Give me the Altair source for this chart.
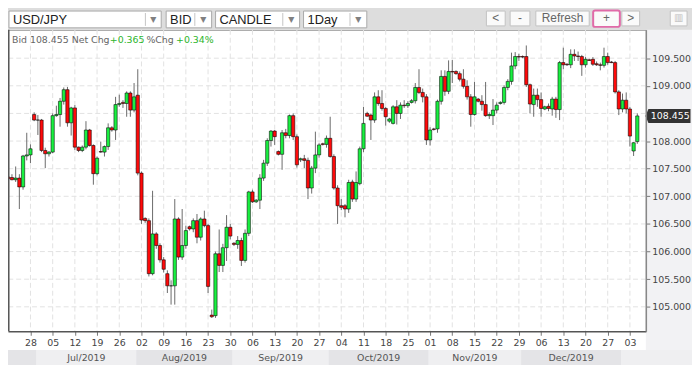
import altair as alt
import pandas as pd

# ---- daily USD/JPY candles (Sun..Fri slots) ----
O = [107.35,107.34,107.30,107.33,107.17,107.73,107.75,108.48,108.38,108.38,
     107.83,107.77,107.80,108.46,108.48,108.72,108.93,108.33,108.60,107.89,
     107.83,107.89,108.20,107.92,107.41,107.81,107.80,107.90,108.24,108.20,
     108.66,108.70,108.68,108.87,108.56,108.83,107.42,106.60,106.56,105.60,
     106.32,106.11,105.85,105.60,105.38,105.38,106.59,105.90,106.11,106.45,
     106.41,106.56,106.26,106.59,106.47,104.85,104.84,105.96,105.75,106.07,
     106.44,106.15,106.13,106.20,105.84,106.33,107.08,106.90,106.93,107.33,
     107.60,108.01,108.18,107.81,107.76,108.15,108.10,108.46,108.08,107.66,
     107.68,107.65,107.15,107.51,107.75,107.95,107.94,108.05,107.72,107.15,
     106.83,106.83,106.77,107.26,106.95,107.23,107.86,108.50,108.47,108.38,
     108.80,108.68,108.59,108.36,108.32,108.62,108.50,108.65,108.64,108.70,
     108.73,108.97,108.88,108.80,108.02,108.22,108.22,108.72,109.17,108.90,
     109.26,109.26,109.22,109.12,108.99,108.80,108.48,108.76,108.72,108.66,
     108.46,108.46,108.56,108.68,108.70,108.97,109.08,109.36,109.53,109.53,
     109.53,109.02,108.66,108.83,108.75,108.58,108.63,108.58,108.76,108.57,
     109.42,109.39,109.38,109.57,109.54,109.53,109.38,109.47,109.48,109.40,
     109.38,109.37,109.53,109.43,109.42,108.89,108.58,108.74,108.58,107.82,
     107.99]
H = [107.42,107.40,107.54,107.40,107.75,108.15,107.94,108.52,108.47,108.40,
     107.88,107.82,108.50,108.64,108.78,108.97,108.98,108.62,108.65,107.90,
     107.92,108.36,108.22,107.94,107.72,107.99,107.92,108.32,108.27,108.80,
     108.84,108.74,108.90,108.90,109.05,109.30,107.45,106.62,106.60,107.10,
     106.35,106.15,105.90,105.66,105.48,106.95,106.62,106.77,106.47,106.47,
     106.60,106.68,106.62,106.74,106.50,104.95,106.00,106.40,106.14,106.66,
     106.50,106.17,106.28,106.25,106.40,107.10,107.12,106.95,107.40,107.66,
     108.05,108.20,108.20,107.83,108.20,108.22,108.48,108.50,108.12,107.70,
     107.75,107.70,107.55,108.17,107.96,107.97,108.10,108.44,107.76,107.20,
     106.95,106.86,107.30,107.30,107.45,107.90,108.62,108.53,108.50,108.88,
     108.92,108.92,108.62,108.42,108.65,108.74,108.70,108.74,108.72,108.76,
     109.05,109.30,108.95,108.85,108.25,108.24,108.75,109.28,109.28,109.46,
     109.47,109.28,109.26,109.30,109.10,108.85,109.07,108.78,108.83,109.07,
     108.52,108.76,108.70,108.72,109.01,109.12,109.60,109.61,109.58,109.55,
     109.73,109.04,108.95,108.95,108.88,108.64,108.68,108.80,108.80,109.45,
     109.69,109.41,109.66,109.66,109.62,109.56,109.52,109.49,109.52,109.44,
     109.42,109.69,109.60,109.45,109.45,108.92,108.86,108.88,108.62,107.98,
     108.50]
L = [107.28,107.29,107.26,106.77,107.12,107.65,107.60,108.36,108.11,107.80,
     107.51,107.72,107.78,108.44,108.26,108.66,108.26,108.10,107.84,107.80,
     107.80,107.85,107.90,107.21,107.38,107.79,107.72,107.84,108.17,108.02,
     108.62,108.60,108.44,108.44,108.52,107.38,106.50,106.52,105.55,105.57,
     106.05,105.80,105.62,105.25,105.04,105.04,105.85,105.85,106.05,106.38,
     106.35,106.15,106.20,106.44,105.25,104.80,104.80,105.63,105.63,105.83,
     106.22,106.10,106.05,105.74,105.80,106.28,106.88,106.88,106.77,107.28,
     107.55,107.90,107.93,107.74,107.48,108.05,108.05,108.02,107.52,107.62,
     107.51,106.95,107.05,107.42,107.70,107.92,107.88,107.70,107.12,106.50,
     106.75,106.62,106.70,106.90,106.90,107.20,107.80,108.44,108.02,108.33,
     108.64,108.55,108.28,108.33,108.30,108.30,108.40,108.60,108.60,108.68,
     108.68,108.85,108.70,107.93,107.92,108.19,108.15,108.66,108.82,108.85,
     109.05,109.20,109.08,108.95,108.75,108.26,108.46,108.70,108.55,108.44,
     108.40,108.29,108.50,108.66,108.66,108.92,109.02,109.30,109.45,109.50,
     108.98,108.50,108.44,108.62,108.44,108.56,108.54,108.46,108.42,108.38,
     109.30,109.36,109.32,109.45,109.45,109.18,109.33,109.45,109.36,109.36,
     109.28,109.33,109.38,109.41,108.86,108.47,108.52,108.50,107.90,107.73,
     107.95]
C = [107.32,107.30,107.33,107.17,107.73,107.75,107.86,108.38,108.38,107.83,
     107.77,107.80,108.46,108.48,108.72,108.93,108.33,108.60,107.89,107.83,
     107.89,108.20,107.92,107.41,107.69,107.80,107.90,108.24,108.20,108.66,
     108.68,108.68,108.87,108.56,108.80,107.42,106.57,106.56,105.60,106.32,
     106.11,105.85,105.68,105.38,105.38,106.59,105.90,106.11,106.38,106.41,
     106.56,106.26,106.59,106.47,105.37,104.82,105.96,105.75,106.07,106.44,
     106.28,106.13,106.20,105.84,106.33,107.08,106.90,106.93,107.33,107.60,
     108.01,108.18,108.08,107.76,108.15,108.10,108.46,108.08,107.57,107.68,
     107.65,107.15,107.51,107.75,107.93,107.94,108.05,107.72,107.15,106.83,
     106.80,106.77,107.25,106.95,107.25,107.86,108.32,108.45,108.38,108.80,
     108.68,108.59,108.44,108.40,108.62,108.50,108.65,108.64,108.68,108.73,
     108.97,108.88,108.80,108.02,108.20,108.21,108.72,109.17,108.90,109.26,
     109.25,109.22,109.12,108.99,108.80,108.48,108.80,108.72,108.66,108.46,
     108.48,108.56,108.65,108.70,108.97,109.08,109.36,109.53,109.52,109.52,
     109.02,108.67,108.83,108.75,108.59,108.62,108.59,108.76,108.57,109.42,
     109.38,109.38,109.57,109.54,109.53,109.38,109.48,109.46,109.39,109.38,
     109.37,109.53,109.42,109.42,108.89,108.58,108.74,108.58,108.09,107.97,
     108.455]

tick_slots = [6 + 6 * k for k in range(28)]          # Fridays
tick_labels = ["28","05","12","19","26","02","09","16","23","30","06","13","20","27",
               "04","11","18","25","01","08","15","22","29","06","13","20","27","03"]
grid_levels = [105.0,105.5,106.0,106.5,107.0,107.5,108.0,108.5,109.0,109.5]
y_label_levels = [105.0,105.5,106.0,106.5,107.0,107.5,108.0,109.0,109.5]  # 108.500 sits under the price tag
month_names = ["","Jul/2019","Aug/2019","Sep/2019","Oct/2019","Nov/2019","Dec/2019",""]
month_start = [-3, 8, 35, 61, 87, 114, 139, 166]
month_shade = ["#e4e4e7","#efeff1","#e4e4e7","#efeff1","#e4e4e7","#efeff1","#e4e4e7","#efeff1"]
header_parts = ["Bid 108.455 Net Chg", "+0.365", "%Chg", "+0.34%"]
toolbar_fields = ["USD/JPY", "BID", "CANDLE", "1Day"]
buttons = ["<", "-", "Refresh", "+", ">"]
last_price = "108.455"

FONT = "DejaVu Sans"
UI = "Liberation Sans"
PX0, PY0 = 8, 28      # page position of the plot's top-left corner

df = pd.DataFrame({"slot": list(range(len(O))), "open": O, "high": H, "low": L, "close": C})
df["dir"] = ["up" if c > o else "down" for o, c in zip(O, C)]

xs = alt.Scale(domain=[1.266, 170.97], nice=False, zero=False)
ys = alt.Scale(domain=[104.557, 110.013], nice=False, zero=False)
lab_expr = "[" + ",".join("'%s'" % t for t in tick_labels) + "][round((datum.value-6)/6)]"
ax_x = alt.Axis(values=tick_slots, labelExpr=lab_expr, title=None, grid=False, tickSize=4,
                tickColor="#777", domainColor="#555", domainWidth=1.5, labelColor="#444",
                labelFont=FONT, labelFontSize=9.5, labelPadding=2, zindex=1,
                labelFlush=False, labelOverlap=False)
ax_y = alt.Axis(values=y_label_levels, format=".3f", orient="right", title=None, grid=False,
                tickSize=4, tickColor="#777", domainColor="#888", domainWidth=1.5,
                labelColor="#444", labelFont=FONT, labelFontSize=9.5, labelPadding=2,
                zindex=1, labelOverlap=False)

one = alt.Data(values=[{"k": 1}])


def rect(x0, y0, x1, y1, fill, stroke=None, sw=1.0, cr=0):
    kw = dict(fill=fill, cornerRadius=cr)
    if stroke:
        kw.update(stroke=stroke, strokeWidth=sw)
    return alt.Chart(one).mark_rect(**kw).encode(
        x=alt.value(x0 - PX0), x2=alt.value(x1 - PX0),
        y=alt.value(y0 - PY0), y2=alt.value(y1 - PY0))


def text(x, y, s, color, size, font=FONT, align="left", weight="normal"):
    return alt.Chart(one).mark_text(text=s, align=align, baseline="middle", color=color,
                                    fontSize=size, font=font, fontWeight=weight).encode(
        x=alt.value(x - PX0), y=alt.value(y - PY0))


def vline(x, y0, y1, color, sw=1.0):
    return alt.Chart(one).mark_rule(color=color, strokeWidth=sw).encode(
        x=alt.value(x - PX0), y=alt.value(y0 - PY0), y2=alt.value(y1 - PY0))


layers = []
# backgrounds
layers.append(rect(0, 0, 700, 28, "#dddddd"))
layers.append(rect(8, 333, 653.3, 352, "#ffffff"))

# month band
mdf = pd.DataFrame({"name": month_names, "start": [s - 0.4 for s in month_start],
                    "end": [s - 0.4 for s in month_start[1:]] + [185],
                    "shade": month_shade})
mdf["mid"] = (mdf["start"] + mdf["end"]) / 2
layers.append(alt.Chart(mdf).mark_rect().encode(
    x=alt.X("start:Q", scale=xs, axis=ax_x), x2="end:Q",
    y=alt.value(352 - PY0), y2=alt.value(368 - PY0),
    fill=alt.Fill("shade:N", scale=None)))
layers.append(alt.Chart(mdf).mark_text(font=FONT, fontSize=9.5, color="#555", baseline="middle").encode(
    x=alt.X("mid:Q", scale=xs, axis=ax_x), y=alt.value(360 - PY0), text="name:N"))

# dashed grid
gstyle = dict(color="#e2e2e2", strokeDash=[5, 3], strokeWidth=1)
layers.append(alt.Chart(pd.DataFrame({"v": grid_levels})).mark_rule(**gstyle).encode(
    y=alt.Y("v:Q", scale=ys, axis=ax_y)))
layers.append(alt.Chart(pd.DataFrame({"s": tick_slots})).mark_rule(clip=True, **gstyle).encode(
    x=alt.X("s:Q", scale=xs, axis=ax_x)))

# candles
layers.append(alt.Chart(df).mark_rule(color="#6a6a6a", strokeWidth=1, clip=True).encode(
    x=alt.X("slot:Q", scale=xs, axis=ax_x),
    y=alt.Y("low:Q", scale=ys, axis=ax_y), y2="high:Q"))
layers.append(alt.Chart(df).mark_bar(width=3.3, stroke="#000000", strokeWidth=0.55, clip=True).encode(
    x=alt.X("slot:Q", scale=xs, axis=ax_x),
    y=alt.Y("open:Q", scale=ys, axis=ax_y), y2="close:Q",
    color=alt.Color("dir:N", scale=alt.Scale(domain=["up", "down"], range=["#19f040", "#ff0a0a"]),
                    legend=None)))

# left border
layers.append(vline(8.8, 28, 333, "#555555", 1.5))

# last price marker
last = df.iloc[[-1]].copy()
last["lbl"] = last_price
tag = "M -1.12 0 L -0.98 -0.33 L 1 -0.33 L 1 0.33 L -0.98 0.33 Z"
layers.append(alt.Chart(last).mark_point(shape=tag, size=1849, filled=True, fill="#333333",
                                         opacity=1, strokeWidth=0).encode(
    x=alt.value(677 - PX0), y=alt.Y("close:Q", scale=ys, axis=ax_y)))
layers.append(alt.Chart(last).mark_text(font=FONT, fontSize=9.5, color="#ffffff",
                                        baseline="middle", align="center").encode(
    x=alt.value(678 - PX0), y=alt.Y("close:Q", scale=ys, axis=ax_y), text="lbl:N"))

# header text
hx = [12, 111, 148, 178]
hc = ["#666666", "#2cb52c", "#666666", "#2cb52c"]
for s, x, c in zip(header_parts, hx, hc):
    layers.append(text(x, 38, s, c, 9.5))

# toolbar fields
boxes = [(9, 163, 147), (168, 214, 197), (218, 303, 286), (307, 371, 354)]
for (x0, x1, sep), s in zip(boxes, toolbar_fields):
    layers.append(rect(x0, 9, x1, 26, "#ffffff", "#a9a9a9", 1))
    layers.append(vline(sep, 11, 24, "#c4c4c4"))
    layers.append(text((sep + x1) / 2, 18, "▼", "#808080", 8, align="center"))
    layers.append(text(x0 + 4, 18, s, "#222222", 13, font=UI))

# buttons
bts = [(491, 512), (515, 537), (541, 597), (600, 627), (628, 648)]
for (x0, x1), s in zip(bts, buttons):
    if s == "+":
        layers.append(rect(x0, 8.5, x1, 25, "#fafafa", "#e06aa8", 2, 2))
    else:
        layers.append(rect(x0 + 1, 9, x1 - 1, 24, "#fafafa", "#c2c2c2", 1))
    layers.append(text((x0 + x1) / 2, 16.5, s, "#666666", 12, font=UI, align="center"))
layers.append(rect(678, 9, 695, 24, "#fafafa", "#c2c2c2", 1))
layers.append(text(686.5, 16.5, "▥", "#bdbdbd", 10, align="center"))

chart = alt.layer(*layers).properties(
    width=645.3, height=305,
    autosize=alt.AutoSizeParams(type="none"),
    padding={"left": 0, "top": 20, "right": 46.7, "bottom": 32},
    background="#f2f2f4",
).configure_view(fill="#ffffff", stroke="#999999", strokeWidth=1)

chart.save("out.html", embed_options={"renderer": "svg", "actions": False})
